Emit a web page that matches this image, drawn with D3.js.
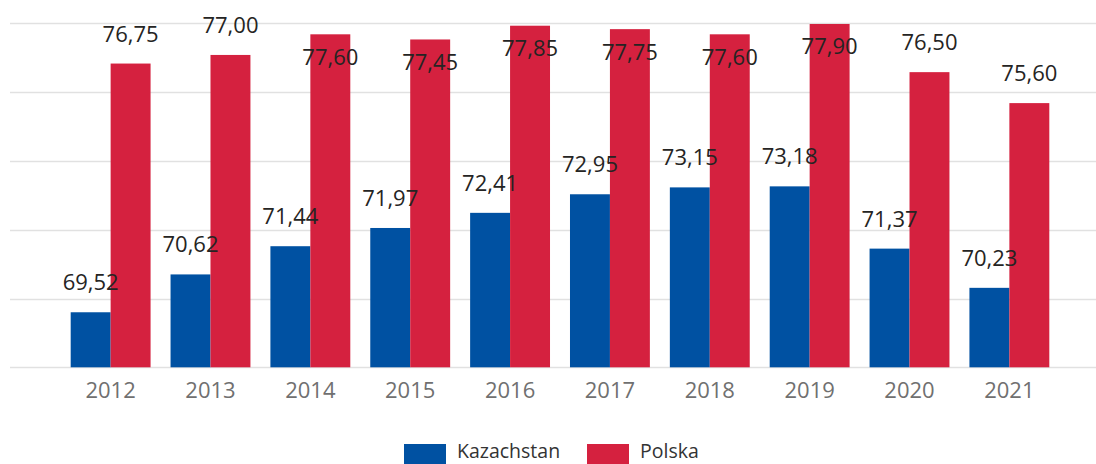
<!DOCTYPE html>
<html>
<head>
<meta charset="utf-8">
<script src="https://cdn.jsdelivr.net/npm/d3@7"></script>
<style>
  html, body { margin: 0; padding: 0; background: #fff; }
  svg { display: block; font-family: "Open Sans", "Noto Sans", sans-serif; }
</style>
</head>
<body>
<svg id="chart" width="1096" height="464"></svg>
<script>
const years = ["2012","2013","2014","2015","2016","2017","2018","2019","2020","2021"];
const seriesNames = ["Kazachstan", "Polska"];
const kazachstan = [69.52, 70.62, 71.44, 71.97, 72.41, 72.95, 73.15, 73.18, 71.37, 70.23];
const polska = [76.75, 77.00, 77.60, 77.45, 77.85, 77.75, 77.60, 77.90, 76.50, 75.60];
const colors = ["#0051A2", "#D5213F"];
const yMin = 67.92, yMax = 77.92, gridStep = 2;

const svg = d3.select("#chart");
const W = 1096, H = 464;

const x = d3.scaleBand().domain(years).range([60.7, 1059.3]).paddingInner(0.2).paddingOuter(0.1);
const xs = d3.scaleBand().domain(seriesNames).range([0, x.bandwidth()]).padding(0);
const y = d3.scaleLinear().domain([yMin, yMax]).range([367.3, 23.3]);

// gridlines
const gridVals = d3.range(yMin, yMax + 0.001, gridStep);
svg.append("g").selectAll("line").data(gridVals).join("line")
  .attr("x1", 10).attr("x2", W)
  .attr("y1", d => Math.round(y(d)) + 0.5).attr("y2", d => Math.round(y(d)) + 0.5)
  .attr("stroke", "#e1e1e1").attr("stroke-width", 1.5);

const data = years.map((yr, i) => ({ year: yr, values: [kazachstan[i], polska[i]] }));

const groups = svg.append("g").selectAll("g").data(data).join("g")
  .attr("transform", d => `translate(${x(d.year)},0)`);

groups.selectAll("rect").data(d => d.values.map((v, j) => ({ v, s: seriesNames[j], j })))
  .join("rect")
  .attr("x", d => xs(d.s))
  .attr("width", xs.bandwidth())
  .attr("y", d => y(d.v))
  .attr("height", d => y(yMin) - y(d.v))
  .attr("fill", d => colors[d.j]);

const fmt = v => v.toFixed(2).replace(".", ",");

groups.selectAll("text.lbl").data(d => d.values.map((v, j) => ({ v, s: seriesNames[j], j })))
  .join("text").attr("class", "lbl")
  .attr("x", d => xs(d.s) + xs.bandwidth() / 2)
  .attr("y", d => {
    const top = y(d.v);
    return (top - 22 - 17 < 8) ? top + 30.5 : top - 22;
  })
  .attr("text-anchor", "middle")
  .attr("font-size", 22)
  .attr("fill", "#252423")
  .text(d => fmt(d.v));

// x axis labels
svg.append("g").selectAll("text").data(years).join("text")
  .attr("x", d => x(d) + x.bandwidth() / 2)
  .attr("y", 398)
  .attr("text-anchor", "middle")
  .attr("font-size", 22)
  .attr("fill", "#707070")
  .text(d => d);

// legend
const legendItems = [
  { name: seriesNames[0], color: colors[0], x: 404 },
  { name: seriesNames[1], color: colors[1], x: 587 }
];
const lg = svg.append("g").selectAll("g").data(legendItems).join("g")
  .attr("transform", d => `translate(${d.x},0)`);
lg.append("rect").attr("x", 0).attr("y", 444).attr("width", 42).attr("height", 24)
  .attr("fill", d => d.color);
lg.append("text").attr("x", 53).attr("y", 457.5).attr("font-size", 19.5)
  .attr("fill", "#333").text(d => d.name);
</script>
</body>
</html>
